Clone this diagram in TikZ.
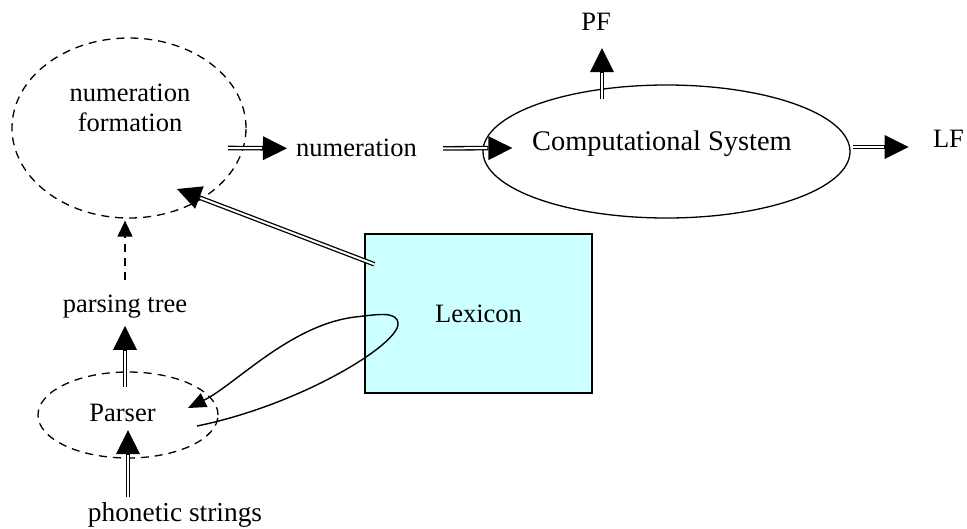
\documentclass[tikz,border=0pt]{standalone}
\usepackage{fontspec}
\setmainfont{Liberation Serif}
\usetikzlibrary{arrows.meta,shapes.geometric,calc}
\definecolor{lexfill}{HTML}{CCFFFF}
\begin{document}
\begin{tikzpicture}[x=1pt,y=-1pt,
  txt/.style={font=\fontsize{26.5}{30}\selectfont, align=center, inner sep=2pt},
  bigtxt/.style={font=\fontsize{28.4}{32}\selectfont, inner sep=2pt},
  dashline/.style={dash pattern=on 8pt off 6pt, line width=1.3pt},
  dbl/.style={line width=4.6pt, -{Triangle[length=24pt,width=24pt,line width=0pt]},
    postaction={draw=white, line width=2pt, -, shorten >=25pt}},
  sgl/.style={line width=1.4pt, -{Triangle[length=18pt,width=15pt]}},
  dsh/.style={dashline, -{Triangle[length=16pt,width=15pt]}}
]
\useasboundingbox (0,0) rectangle (967,528);

% shapes
\node[ellipse, draw, dashline, minimum width=234pt, minimum height=180pt, inner sep=0pt] (nfe) at (129,128) {};
\node[txt] (nft) at (130,108) {numeration\\formation};
\node[txt, anchor=base] (num) at (356.5,156) {numeration};
\node[ellipse, draw, line width=1.3pt, minimum width=367pt, minimum height=133pt, inner sep=0pt] (cs) at (666.5,151.5) {};
\node[bigtxt, anchor=base] (cst) at (662,150) {Computational System};
\node[txt, anchor=base] (pf) at (596,30) {PF};
\node[txt, anchor=base] (lf) at (948.5,147) {LF};
\node[txt, draw, line width=1.5pt, fill=lexfill, minimum width=227pt, minimum height=159pt] (lex) at (478.5,313.5) {Lexicon};
\node[txt, anchor=base] (pt) at (125,312) {parsing tree};
\node[ellipse, draw, dashline, minimum width=180pt, minimum height=86pt, inner sep=0pt] (pe) at (128,415) {};
\node[txt, anchor=base] (pst) at (122.5,421) {Parser};
\node[font=\fontsize{27.4}{30}\selectfont, inner sep=2pt, anchor=base] (ps) at (175,521) {phonetic strings};

% connectors
\draw[dbl] ($(nfe.center)+(99,20)$) -- ($(num.west)+(-7,1)$);
\draw[dbl] ($(num.east)+(24,1)$) -- ($(cs.west)+(30,-3.5)$);
\draw[dbl] ($(cs.north)+(-64.5,15)$) -- ($(pf.south)+(6,16)$);
\draw[dbl] ($(cs.east)+(2,-4.5)$) -- ($(cs.east)+(58,-4.5)$);
\draw[dbl] ($(lex.north west)+(10,31)$) -- ($(nfe.center)+(48,61)$);
\draw[dsh] ($(pt.north)+(0,-12)$) -- ($(pt.north |- nfe.south)+(0,2)$);
\draw[dbl] ($(pe.north)+(-3,16)$) -- ($(pt.south)+(0,6)$);
\draw[dbl] ($(pe.center |- ps.north)+(0,-3)$) -- ($(pe.center)+(0,15)$);
\draw[sgl] ($(pe.center)+(69,11)$)
  .. controls (300,405) and (398,345) .. (398,324)
  .. controls (398,310) and (375,315) .. (355,317)
  .. controls (290,325) and (235,385) .. ($(pe.center)+(60,-7)$);
\end{tikzpicture}
\end{document}
